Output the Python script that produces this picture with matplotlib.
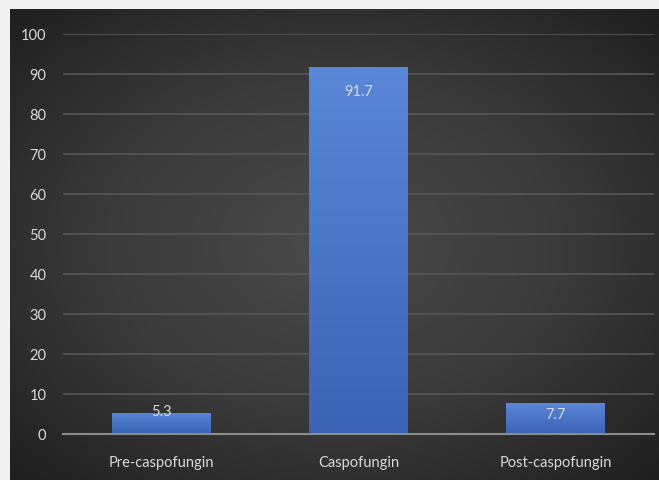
import matplotlib.pyplot as plt
import numpy as np
from matplotlib.colors import LinearSegmentedColormap

categories = ["Pre-caspofungin", "Caspofungin", "Post-caspofungin"]
values = [5.3, 91.7, 7.7]
yticks = [0, 10, 20, 30, 40, 50, 60, 70, 80, 90, 100]

plt.rcParams['font.family'] = ['Lato', 'DejaVu Sans']

fig = plt.figure(figsize=(6.59, 4.81), dpi=100)
fig.patch.set_facecolor('#f1f1f1')

# fond sombre avec dégradé radial
bg = fig.add_axes([10 / 659, 0, 649 / 659, 471 / 481])
yy, xx = np.mgrid[-1:1:300j, -1:1:400j]
r = np.sqrt(xx ** 2 + yy ** 2) / np.sqrt(2)
bg_cmap = LinearSegmentedColormap.from_list('bg', ['#4a4a4a', '#3a3a3a', '#1f1f1f'])
bg.imshow(r, cmap=bg_cmap, aspect='auto', extent=[0, 1, 0, 1])
bg.set_axis_off()

ax = fig.add_axes([63 / 659, 46 / 481, 591 / 659, 400 / 481])
ax.set_facecolor('none')
x = np.arange(len(categories))
bars = ax.bar(x, values, width=0.5, color='#4472c4', zorder=2)

bar_cmap = LinearSegmentedColormap.from_list('bar', ['#3a62b5', '#5b87d8'])
grad = np.linspace(0, 1, 256).reshape(-1, 1)
for b in bars:
    x0, y0 = b.get_x(), b.get_y()
    im = ax.imshow(grad, cmap=bar_cmap, origin='lower', aspect='auto',
                   extent=[x0, x0 + b.get_width(), y0, y0 + b.get_height()], zorder=3)
    im.set_clip_path(b)

ax.set_xlim(-0.5, 2.5)
ax.set_ylim(0, 100)
ax.set_yticks(yticks)
ax.set_xticks(x)
ax.set_xticklabels(categories)
ax.yaxis.grid(True, color='#575757', linewidth=1.2, zorder=0)
ax.set_axisbelow(True)
for s in ['top', 'right', 'left']:
    ax.spines[s].set_visible(False)
ax.spines['bottom'].set_color('#8c8c8c')
ax.spines['bottom'].set_linewidth(1.5)
ax.spines['bottom'].set_zorder(4)
ax.tick_params(length=0, colors='#d9d9d9', labelsize=10.5)
ax.tick_params(axis='x', pad=15)
ax.tick_params(axis='y', pad=12)

offsets = [2, -24, -11]
for xi, v, off in zip(x, values, offsets):
    ax.annotate(f"{v}", (xi, v), xytext=(0, off * 0.72), textcoords='offset points',
                ha='center', va='center', color='#d9d9d9', fontsize=10.5, zorder=5)

fig.savefig('out.png', dpi=100, facecolor=fig.get_facecolor())
